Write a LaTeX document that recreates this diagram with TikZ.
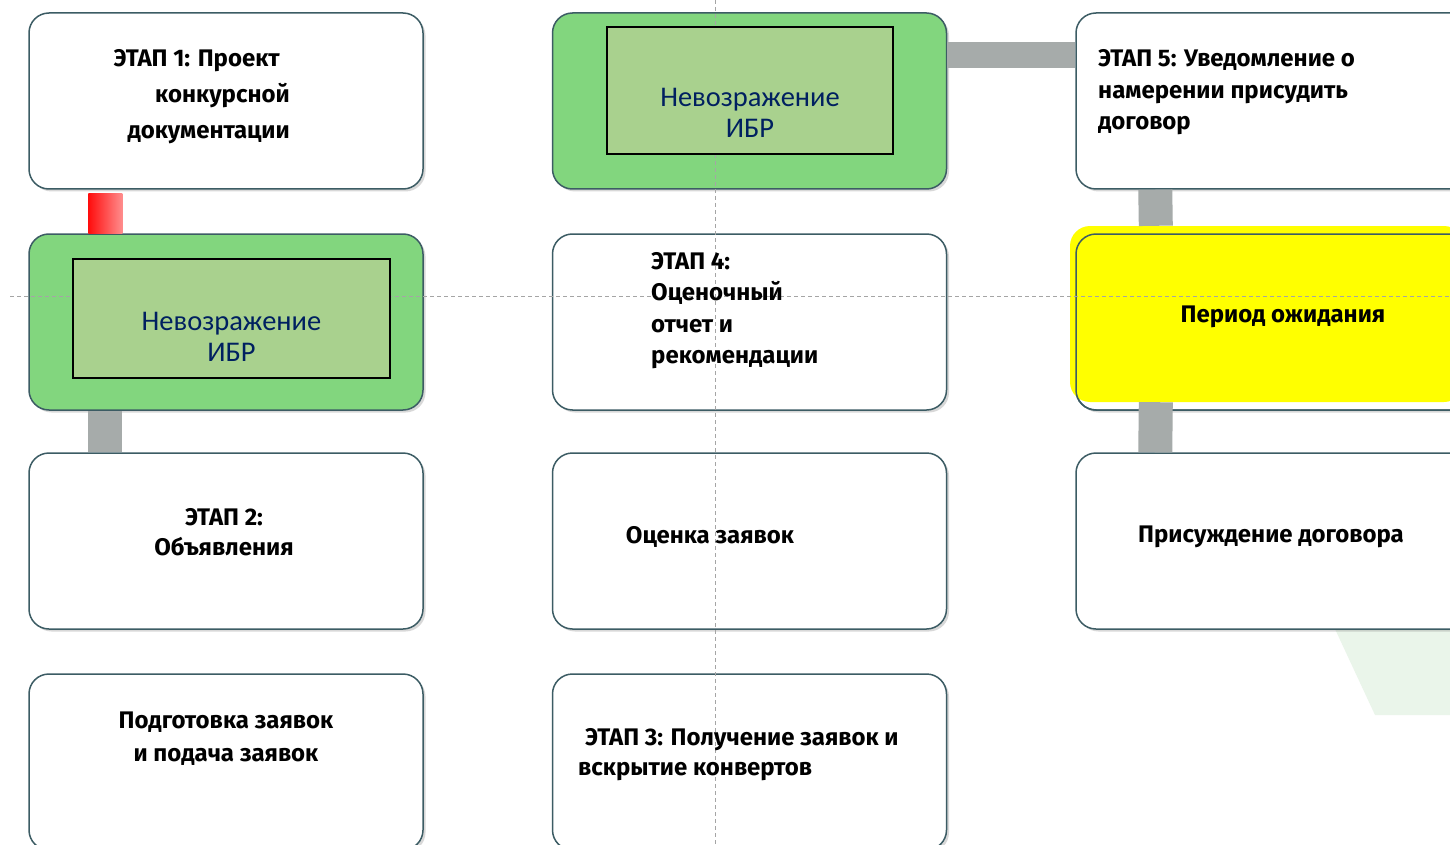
\documentclass[tikz,border=0pt]{standalone}
\usepackage{fontspec}
\setmainfont{Fira Sans}
\newfontfamily\calib{Carlito}
\usetikzlibrary{shadows}
\definecolor{edge}{RGB}{60,92,100}
\definecolor{grn}{RGB}{130,214,126}
\definecolor{inn}{RGB}{169,209,142}
\definecolor{navy}{RGB}{0,32,96}
\definecolor{conn}{RGB}{166,171,170}
\definecolor{ylw}{RGB}{255,255,0}
\definecolor{lightg}{RGB}{234,245,234}
\definecolor{guide}{RGB}{165,165,165}
\begin{document}
\begin{tikzpicture}[x=1pt,y=-1pt,
  box/.style={draw=edge, line width=1.5pt, rounded corners=20pt, fill=white,
    minimum width=394pt, minimum height=176pt, inner sep=0pt,
    drop shadow={shadow xshift=2.5pt, shadow yshift=-2.5pt, opacity=0.3, fill=gray}},
  outl/.style={draw=edge, line width=1.5pt, rounded corners=20pt, fill=none,
    minimum width=394pt, minimum height=176pt, inner sep=0pt},
  ybox/.style={fill=ylw, rounded corners=20pt, minimum width=394pt, minimum height=176pt, inner sep=0pt},
  innerbox/.style={draw=black, line width=1.3pt, fill=inn, inner sep=0pt},
  ibr/.style={font=\calib\fontsize{28.5}{31}\selectfont, text=navy, align=center, inner sep=0pt},
  lbl/.style={font=\fontsize{24}{31.5}\selectfont\bfseries, text=black, inner sep=0pt},
  graybar/.style={draw=conn, line width=34pt},
  guideline/.style={draw=guide, line width=0.8pt, dash pattern=on 4pt off 3pt}
]
\useasboundingbox (0,0) rectangle (1450,845);
\clip (0,0) rectangle (1450,845);
\fill[white] (0,0) rectangle (1450,845);

% light green background shape
\fill[lightg] (1335,629) -- (1450,629) -- (1450,715) -- (1375,715) -- cycle;

% boxes
\node[box] (p1) at (226,101) {};
\node[box,fill=grn] (n1) at (226,322) {};
\node[box] (s2) at (226,541) {};
\node[box] (prep) at (226,762) {};
\node[box,fill=grn] (n2) at (749.5,101) {};
\node[box] (s4) at (749.5,322) {};
\node[box] (ev) at (749.5,541) {};
\node[box] (s3) at (749.5,762) {};
\node[box] (s5) at (1273,101) {};
\node[box] (wbase) at (1273,322) {};
\node[ybox] (wait) at (1267,314) {};
\node[outl] (wo) at (1273,322) {};
\node[box] (aw) at (1273,541) {};

% connectors
\shade[left color=red!95, right color=red!45]
  ([xshift=60pt,yshift=-4pt]p1.south west) rectangle ([xshift=94pt]n1.north west);
\draw[graybar] ([xshift=77pt]n1.south west) -- ([xshift=77pt]s2.north west);
\draw[draw=conn, line width=26pt] ([yshift=46pt]n2.east) -- ([yshift=46pt]s5.west);
\draw[graybar] ([xshift=80pt]s5.south west) -- ([xshift=86pt]wait.north west);
\draw[graybar] ([xshift=86pt]wait.south west) -- ([xshift=80pt]aw.north west);

% guide lines
\draw[guideline] (715,0) -- (715,845);
\draw[guideline] (10,296) -- (1450,296);

% inner rectangles
\node[innerbox, minimum width=317pt, minimum height=119pt] (i1) at (231.5,318.5) {};
\node[innerbox, minimum width=286pt, minimum height=127pt] (i2) at (750,90.5) {};
\node[ibr] (t1) at (231.5,337) {Невозражение\\ИБР};
\node[ibr] (t2) at (750,113) {Невозражение\\ИБР};

% labels
\node[lbl, font=\fontsize{24}{36}\selectfont\bfseries, align=right, anchor=east] (l1) at (290,96.5)
  {ЭТАП 1: Проект\rule{10pt}{0pt}\\конкурсной\\документации};
\node[lbl, font=\fontsize{24}{30}\selectfont\bfseries, align=center] (l2) at (224,532) {ЭТАП 2:\\Объявления};
\node[lbl, font=\fontsize{24}{33}\selectfont\bfseries, align=center] (l3) at (226,739) {Подготовка заявок\\и подача заявок};
\node[lbl, align=left, anchor=west] (l4) at (651,310.5) {ЭТАП 4:\\Оценочный\\отчет и\\рекомендации};
\node[lbl] (l5) at (710,537) {Оценка заявок};
\node[lbl, font=\fontsize{24}{30}\selectfont\bfseries, align=left, anchor=west] (l6) at (578,755)
  {\hspace{7pt}ЭТАП 3: Получение заявок и\\вскрытие конвертов};
\node[lbl, align=left, anchor=west] (l7) at (1098,92.5) {ЭТАП 5: Уведомление о\\намерении присудить\\договор};
\node[lbl] (l8) at (1283,317) {Период ожидания};
\node[lbl] (l9) at (1271,537) {Присуждение договора};
\end{tikzpicture}
\end{document}
